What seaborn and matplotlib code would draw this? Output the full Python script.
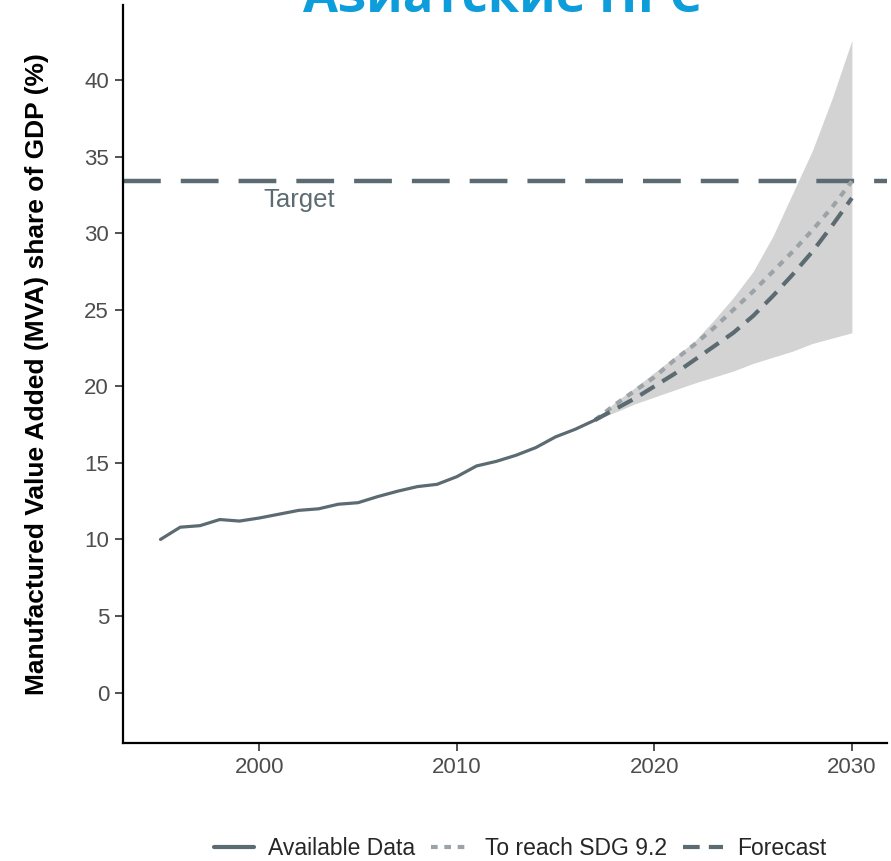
import pandas as pd
import matplotlib.pyplot as plt
import seaborn as sns
from matplotlib.lines import Line2D

# values
hist_years = list(range(1995, 2018))
hist_mva = [10.0, 10.8, 10.9, 11.3, 11.2, 11.4, 11.65, 11.9, 12.0, 12.3, 12.4,
            12.8, 13.15, 13.45, 13.6, 14.1, 14.8, 15.1, 15.5, 16.0, 16.7, 17.2, 17.8]

fc_years = list(range(2017, 2031))
forecast = [17.8, 18.5, 19.2, 20.0, 20.8, 21.7, 22.6, 23.5, 24.6, 25.9, 27.3, 28.8, 30.5, 32.3]
sdg_path = [17.8, 18.8, 19.7, 20.6, 21.7, 22.7, 23.8, 25.0, 26.2, 27.5, 28.8, 30.2, 31.7, 33.4]
band_low = [17.8, 18.3, 18.85, 19.3, 19.75, 20.2, 20.6, 21.0, 21.5, 21.9, 22.3, 22.8, 23.15, 23.5]
band_high = [17.8, 18.95, 19.9, 20.9, 21.9, 22.9, 24.3, 25.8, 27.5, 29.8, 32.6, 35.4, 38.8, 42.6]

target = 33.4
legend_labels = ["Available Data", "To reach SDG 9.2", "Forecast"]

dark = "#5b6b71"
light = "#9ca3a6"

hist = pd.DataFrame({"Year": hist_years, "MVA": hist_mva})
fc = pd.DataFrame({"Year": fc_years, "Forecast": forecast, "SDG": sdg_path,
                   "Low": band_low, "High": band_high})

sns.set_style("ticks")
plt.rcParams['font.family'] = ['Liberation Sans', 'DejaVu Sans']

fig = plt.figure(figsize=(8.91, 8.61), dpi=100)
ax = fig.add_axes([0.138, 0.137, 0.858, 0.857])

# uncertainty band
ax.fill_between(fc["Year"], fc["Low"], fc["High"], color="#d3d3d3", linewidth=0, zorder=1)

# target line
ax.axhline(target, color=dark, linewidth=3.2, dashes=(8.5, 4.5), zorder=2)
ax.text(2002, 32.2, "Target", color=dark, fontsize=18.5, ha="center", va="center")

sns.lineplot(data=hist, x="Year", y="MVA", ax=ax, color=dark, linewidth=2.3, zorder=4)
sns.lineplot(data=fc, x="Year", y="SDG", ax=ax, color=light, linewidth=3.0, zorder=3)
ax.lines[-1].set_dashes((1.6, 1.6))
sns.lineplot(data=fc, x="Year", y="Forecast", ax=ax, color=dark, linewidth=3.0, zorder=3)
ax.lines[-1].set_dashes((4, 2.2))

ax.set_xlim(1993.1, 2031.8)
ax.set_ylim(-3.3, 44.9)
ax.set_xticks([2000, 2010, 2020, 2030])
ax.set_yticks(range(0, 45, 5))
ax.tick_params(axis="both", labelsize=16, labelcolor="#4d4d4d", color="#333333",
               length=6, width=1.2, pad=4)
ax.set_xlabel("")
ax.set_ylabel("Manufactured Value Added (MVA) share of GDP (%)", fontsize=19,
              fontweight="bold", color="black", labelpad=25)
for side in ["top", "right"]:
    ax.spines[side].set_visible(False)
for side in ["left", "bottom"]:
    ax.spines[side].set_linewidth(1.6)
    ax.spines[side].set_color("black")

handles = [
    Line2D([], [], color=dark, linewidth=3.0),
    Line2D([], [], color=light, linewidth=3.0, dashes=(1.6, 1.6)),
    Line2D([], [], color=dark, linewidth=3.0, dashes=(4, 2.2)),
]
fig.legend(handles, legend_labels, loc="center", bbox_to_anchor=(0.584, 0.015),
           ncol=3, frameon=False, fontsize=16.5, handlelength=1.75,
           columnspacing=0.7, handletextpad=0.6)

fig.text(0.564, 0.9861, "Азиатские НРС", color="#0d9ddb", fontsize=36.5,
         fontweight="bold", family=["Open Sans", "DejaVu Sans"],
         ha="center", va="baseline")

plt.savefig("out.png", dpi=100)
